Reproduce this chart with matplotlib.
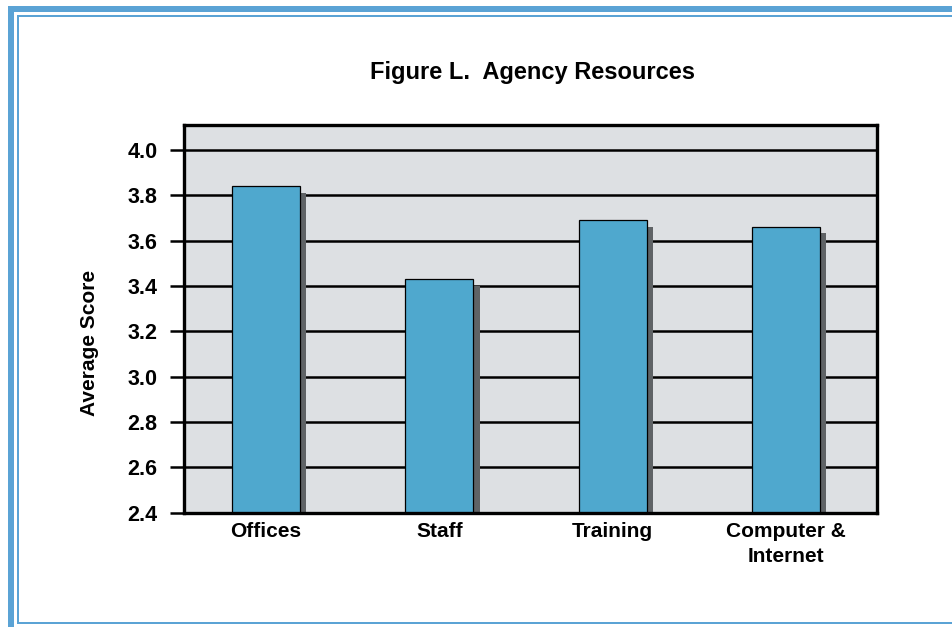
import matplotlib
matplotlib.use("Agg")
import matplotlib.pyplot as plt
import matplotlib.patheffects as pe
from matplotlib.patches import Rectangle

plt.rcParams['font.family'] = ['Liberation Sans', 'DejaVu Sans']
plt.rcParams['font.weight'] = 'bold'

# datos de la figura
categorias = ["Offices", "Staff", "Training", "Computer &\nInternet"]
puntajes = [3.84, 3.43, 3.69, 3.66]
marcas_y = [2.4, 2.6, 2.8, 3.0, 3.2, 3.4, 3.6, 3.8, 4.0]

W, H = 952, 627
fig = plt.figure(figsize=(W / 100, H / 100), dpi=100)

# marco azul de la pagina (coordenadas en pixeles)
azul = '#5ba3d5'
def rect_px(x0, y0, x1, y1, color):
    fig.patches.append(Rectangle((x0 / W, 1 - y1 / H), (x1 - x0) / W, (y1 - y0) / H,
                                 transform=fig.transFigure, color=color, lw=0))

rect_px(8, 6, 14, H, azul)       # banda gruesa izquierda
rect_px(8, 6, W, 12, azul)       # banda gruesa superior
rect_px(17, 15, 18.5, 623.5, azul)
rect_px(17, 15, W, 16.5, azul)
rect_px(17, 622, W, 623.5, azul)

ax = fig.add_axes([184 / W, 1 - 512.7 / H, (877 - 184) / W, (512.7 - 125) / H])
ax.set_facecolor('#dde0e3')

x = list(range(len(categorias)))
barras = ax.bar(x, puntajes, width=0.392, color='#4fa8ce', edgecolor='black',
                linewidth=0.9, zorder=3)
for b in barras:
    b.set_path_effects([pe.SimplePatchShadow(offset=(4.6, -4.6), shadow_rgbFace='#5f6366',
                                             alpha=1.0), pe.Normal()])

ax.set_xlim(-0.473, 3.526)
ax.set_ylim(2.4, 4.11)
ax.set_yticks(marcas_y)
ax.set_yticklabels([f"{v:.1f}" for v in marcas_y])
ax.yaxis.grid(True, color='black', linewidth=1.8)
ax.set_axisbelow(True)

ax.tick_params(axis='y', length=10, width=1.8, pad=9, labelsize=15.5, color='black')
ax.tick_params(axis='x', length=0, pad=7, labelsize=15)
ax.set_xticks(x)
ax.set_xticklabels(categorias, fontweight='bold', linespacing=1.35)
for s in ax.spines.values():
    s.set_linewidth(2.4)
    s.set_zorder(5)

ax.set_ylabel("Average Score", fontsize=15, fontweight='bold')
ax.yaxis.set_label_coords(-0.122, 0.438)

fig.text(532 / W, 1 - 73 / H, "Figure L.  Agency Resources", ha='center', va='center',
         fontsize=17, fontweight='bold')

fig.savefig("out.png", dpi=100)
